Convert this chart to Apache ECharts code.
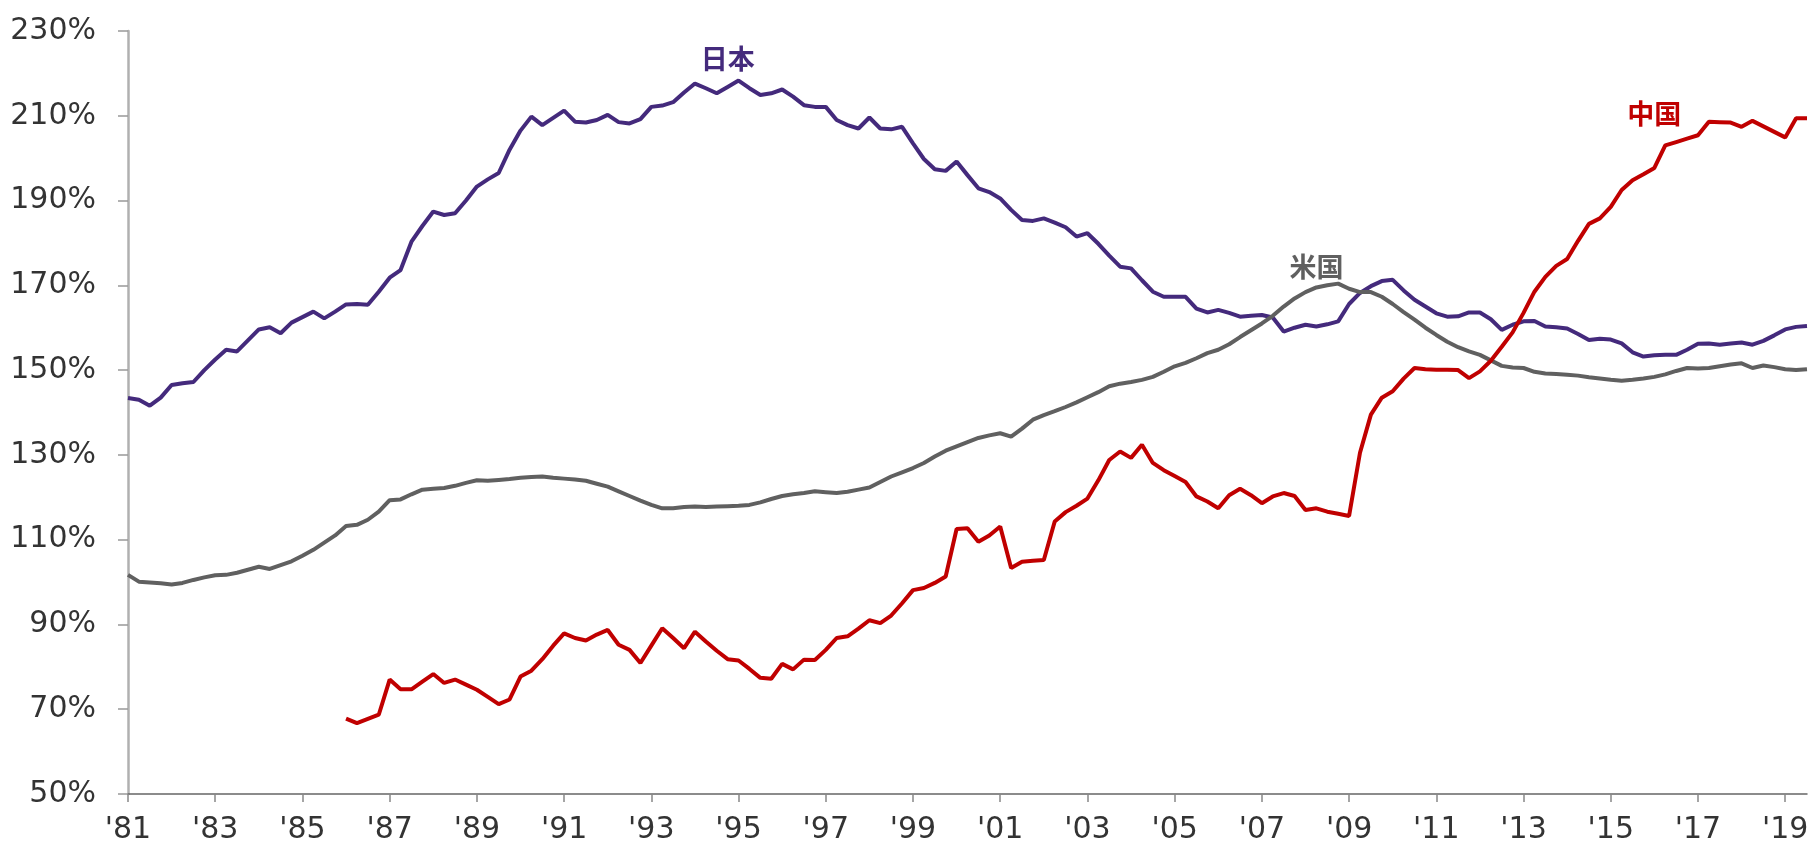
<!DOCTYPE html>
<html>
<head>
<meta charset="utf-8">
<script src="https://cdn.jsdelivr.net/npm/echarts@6/dist/echarts.min.js"></script>
<style>
  html, body { margin: 0; padding: 0; background: #fff; }
  #chart { width: 1812px; height: 846px; }
</style>
</head>
<body>
<div id="chart"></div>
<script>
// 四半期ごと 1981Q1 〜 2019Q3
const startYear = 1981
const quarterCount = 155
const categories = []
for (let i = 0; i < quarterCount; i++) {
  categories.push((startYear + Math.floor(i / 4)) + 'Q' + (i % 4 + 1))
}

const yTicks = [50, 70, 90, 110, 130, 150, 170, 190, 210, 230]

const japan = [
  143.4, 143.0, 141.6, 143.5, 146.5, 146.9, 147.2, 150.0, 152.5, 154.8,
  154.4, 157.0, 159.6, 160.1, 158.7, 161.2, 162.5, 163.8, 162.2, 163.8,
  165.5, 165.6, 165.4, 168.5, 171.8, 173.6, 180.3, 184.0, 187.4, 186.6,
  187.0, 190.0, 193.3, 195.0, 196.5, 202.0, 206.5, 209.8, 207.8, 209.5,
  211.2, 208.6, 208.4, 209.0, 210.2, 208.5, 208.2, 209.2, 212.1, 212.4,
  213.2, 215.5, 217.6, 216.5, 215.3, 216.8, 218.3, 216.5, 214.9, 215.3,
  216.2, 214.5, 212.5, 212.1, 212.1, 209.0, 207.8, 207.0, 209.6, 207.0,
  206.8, 207.4, 203.5, 199.8, 197.4, 197.0, 199.2, 196.0, 192.9, 192.0,
  190.5, 187.8, 185.4, 185.2, 185.8, 184.8, 183.7, 181.5, 182.3, 179.8,
  177.0, 174.4, 174.0, 171.2, 168.5, 167.3, 167.3, 167.3, 164.5, 163.6,
  164.2, 163.5, 162.6, 162.8, 163.0, 162.4, 159.1, 160.0, 160.7, 160.3,
  160.8, 161.5, 165.6, 168.2, 169.8, 171.0, 171.3, 168.8, 166.6, 165.0,
  163.4, 162.6, 162.7, 163.6, 163.6, 162.0, 159.5, 160.7, 161.5, 161.6,
  160.3, 160.1, 159.8, 158.5, 157.1, 157.4, 157.2, 156.3, 154.2, 153.2,
  153.5, 153.6, 153.6, 154.8, 156.2, 156.3, 156.0, 156.3, 156.5, 156.0,
  156.9, 158.2, 159.6, 160.2, 160.4
]

const usa = [
  101.7, 100.1, 99.9, 99.7, 99.4, 99.8, 100.5, 101.1, 101.6, 101.7,
  102.2, 102.9, 103.6, 103.1, 104.0, 104.9, 106.2, 107.6, 109.3, 111.0,
  113.2, 113.5, 114.7, 116.6, 119.3, 119.5, 120.7, 121.8, 122.0, 122.2,
  122.7, 123.4, 124.0, 123.9, 124.1, 124.3, 124.6, 124.8, 124.9, 124.6,
  124.4, 124.2, 123.9, 123.2, 122.5, 121.4, 120.3, 119.2, 118.2, 117.4,
  117.4, 117.7, 117.8, 117.7, 117.8, 117.9, 118.0, 118.2, 118.8, 119.6,
  120.3, 120.7, 121.0, 121.4, 121.2, 121.0, 121.3, 121.8, 122.3, 123.6,
  124.9, 125.9, 126.9, 128.1, 129.6, 131.0, 132.0, 133.0, 134.0, 134.6,
  135.1, 134.3, 136.2, 138.3, 139.4, 140.3, 141.3, 142.4, 143.6, 144.8,
  146.2, 146.8, 147.2, 147.7, 148.4, 149.6, 150.9, 151.7, 152.8, 154.0,
  154.8, 156.1, 157.8, 159.4, 161.0, 162.8, 165.0, 166.9, 168.4, 169.5,
  170.0, 170.4, 169.2, 168.4, 168.4, 167.3, 165.6, 163.7, 161.9, 160.0,
  158.3, 156.7, 155.4, 154.4, 153.6, 152.3, 151.0, 150.6, 150.5, 149.6,
  149.2, 149.1, 148.9, 148.7, 148.3, 148.0, 147.7, 147.5, 147.7, 148.0,
  148.4, 149.0, 149.8, 150.5, 150.4, 150.5, 150.9, 151.3, 151.6, 150.5,
  151.1, 150.7, 150.2, 150.0, 150.2
]

// 中国は1986Q1から
const china = [
  null, null, null, null, null, null, null, null, null, null,
  null, null, null, null, null, null, null, null, null, null,
  67.8, 66.7, 67.7, 68.7, 77.0, 74.7, 74.7, 76.5, 78.3, 76.2,
  77.0, 75.8, 74.6, 72.9, 71.2, 72.3, 77.7, 79.1, 81.8, 85.0,
  87.9, 86.8, 86.2, 87.6, 88.7, 85.2, 84.0, 80.9, 85.0, 89.1,
  86.8, 84.4, 88.3, 86.0, 83.8, 81.8, 81.5, 79.5, 77.4, 77.2,
  80.7, 79.4, 81.7, 81.6, 84.0, 86.8, 87.2, 89.0, 91.0, 90.3,
  92.1, 95.0, 98.1, 98.6, 99.8, 101.3, 112.5, 112.7, 109.5, 111.0,
  113.1, 103.3, 104.8, 105.0, 105.2, 114.3, 116.5, 118.0, 119.7, 124.0,
  128.8, 130.8, 129.3, 132.4, 128.1, 126.4, 125.0, 123.6, 120.2, 119.0,
  117.4, 120.5, 122.0, 120.5, 118.6, 120.2, 121.0, 120.3, 117.0, 117.4,
  116.6, 116.1, 115.6, 130.5, 139.5, 143.5, 145.0, 148.0, 150.5, 150.2,
  150.1, 150.1, 150.0, 148.1, 149.7, 152.2, 155.5, 158.9, 163.5, 168.5,
  172.0, 174.6, 176.2, 180.5, 184.5, 185.8, 188.5, 192.5, 194.8, 196.2,
  197.7, 203.0, 203.8, 204.6, 205.4, 208.6, 208.5, 208.4, 207.4, 208.8,
  207.5, 206.2, 204.9, 209.4, 209.4
]

const names = ['日本', '米国', '中国']
const colors = ['#442a7c', '#606060', '#c00000']
// ラベル位置（データ座標）
const labelAt = [[55, 223.4], [109, 174.3], [140, 210.4]]

const chart = echarts.init(document.getElementById('chart'))

const makeSeries = (idx, data) => ({
  name: names[idx],
  type: 'line',
  data: data,
  showSymbol: false,
  lineStyle: { color: colors[idx], width: 4 },
  itemStyle: { color: colors[idx] },
  markPoint: {
    symbol: 'circle',
    symbolSize: 1,
    itemStyle: { color: 'transparent' },
    label: {
      show: true,
      position: 'inside',
      formatter: names[idx],
      color: colors[idx],
      fontFamily: 'Noto Sans CJK JP',
      fontWeight: 'bold',
      fontSize: 27
    },
    data: [{ coord: labelAt[idx] }]
  }
})

const option = {
  animation: false,
  backgroundColor: '#fff',
  grid: { left: 128, right: 5, top: 31, bottom: 52 },
  xAxis: {
    type: 'category',
    data: categories,
    boundaryGap: false,
    axisLine: { lineStyle: { color: '#666', width: 1.5 } },
    axisTick: { interval: 7, length: 8, lineStyle: { color: '#888', width: 1.5 } },
    axisLabel: {
      interval: 7,
      margin: 21,
      color: '#333',
      fontFamily: 'DejaVu Sans',
      fontSize: 30,
      formatter: v => "'" + v.slice(2, 4)
    },
    splitLine: { show: false }
  },
  yAxis: {
    type: 'value',
    min: 50,
    max: 230,
    axisLine: { show: true, lineStyle: { color: '#b0b0b0', width: 2.5 } },
    axisTick: { show: true, customValues: yTicks, length: 10, lineStyle: { color: '#999', width: 1.5 } },
    axisLabel: {
      customValues: yTicks,
      margin: 32,
      color: '#333',
      fontFamily: 'DejaVu Sans',
      fontSize: 30,
      formatter: v => v + '%'
    },
    splitLine: { show: false }
  },
  series: [
    makeSeries(0, japan),
    makeSeries(1, usa),
    makeSeries(2, china)
  ]
}

chart.setOption(option)
</script>
</body>
</html>
